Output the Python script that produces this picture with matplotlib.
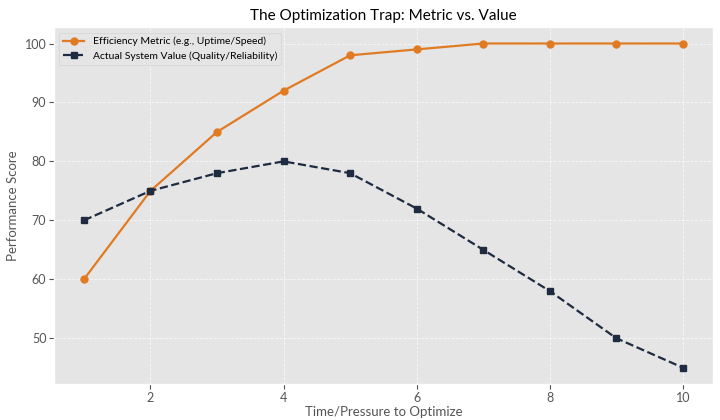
import matplotlib
matplotlib.use("Agg")
import matplotlib.pyplot as plt

plt.style.use("ggplot")
plt.rcParams['font.family'] = ['Lato', 'DejaVu Sans']

# データ
time_pressure = [1, 2, 3, 4, 5, 6, 7, 8, 9, 10]
efficiency_metric = [60, 75, 85, 92, 98, 99, 100, 100, 100, 100]
system_value = [70, 75, 78, 80, 78, 72, 65, 58, 50, 45]

fig, ax = plt.subplots(figsize=(7.2, 4.2), dpi=100)
ax.set_facecolor("#E5E5E5")

ax.plot(time_pressure, efficiency_metric, marker="o", markersize=5,
        linewidth=1.6, color="#E07B24", label="Efficiency Metric (e.g., Uptime/Speed)")
ax.plot(time_pressure, system_value, marker="s", markersize=5,
        linewidth=1.6, linestyle="--", color="#1E2B40",
        label="Actual System Value (Quality/Reliability)")

ax.grid(True, color="white", linestyle="--", linewidth=0.6, alpha=0.7)
ax.tick_params(colors="#555555", labelsize=9, pad=2)
ax.set_title("The Optimization Trap: Metric vs. Value", fontsize=11, color="black", pad=5)
ax.set_xlabel("Time/Pressure to Optimize", fontsize=9.5, color="#555555", labelpad=2)
ax.set_ylabel("Performance Score", fontsize=9.5, color="#555555", labelpad=4)
ax.legend(loc="upper left", fontsize=7.5, facecolor="#E5E5E5", edgecolor="#D0D0D0")

fig.subplots_adjust(left=0.075, right=0.99, top=0.935, bottom=0.086)
fig.savefig("out.png", dpi=100)
